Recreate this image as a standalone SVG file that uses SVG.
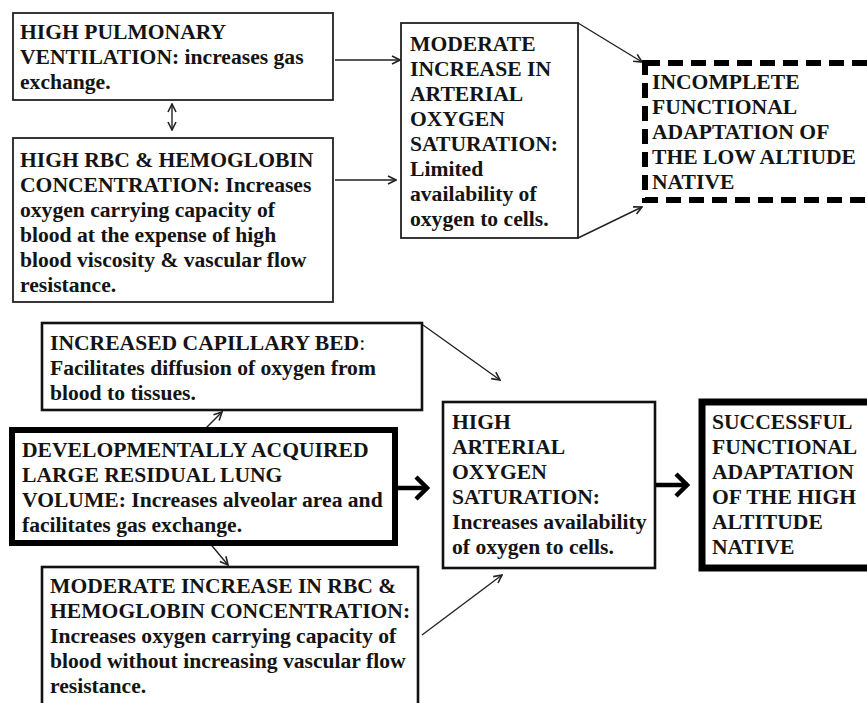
<svg xmlns="http://www.w3.org/2000/svg" width="867" height="703" viewBox="0 0 867 703">
<style>
text{font-family:"Liberation Serif","Times New Roman",serif;font-weight:bold;font-size:21.6px;fill:#141414}
.b{fill:#fff;stroke:#222;stroke-width:1.8}
.m{fill:#fff;stroke:#111;stroke-width:2.6}
.k{fill:#fff;stroke:#000;stroke-width:6}
.d{fill:#fff;stroke:#000;stroke-width:6;stroke-dasharray:15 8}
.c{fill:none;stroke:#222;stroke-width:1.4;marker-end:url(#a)}
.t{fill:none;stroke:#000;stroke-width:4.5;marker-end:url(#h)}
.n{font-weight:normal}
</style>
<defs>
<marker id="a" viewBox="0 0 10 10" refX="9" refY="5" markerWidth="10" markerHeight="10" markerUnits="userSpaceOnUse" orient="auto-start-reverse"><path d="M1,1 L9,5 L1,9" fill="none" stroke="#222" stroke-width="1.6"/></marker>
<marker id="h" viewBox="0 0 16 26" refX="14" refY="13" markerWidth="16" markerHeight="26" markerUnits="userSpaceOnUse" orient="auto"><path d="M2,2 L13,13 L2,24" fill="none" stroke="#000" stroke-width="4.5"/></marker>
</defs>
<rect width="867" height="703" fill="#fff"/>
<g id="connectors">
<line class="c" x1="335" y1="60" x2="400" y2="60"/>
<line class="c" x1="335" y1="180" x2="396" y2="180"/>
<line class="c" x1="578" y1="23" x2="642" y2="62"/>
<line class="c" x1="578" y1="238" x2="642" y2="207"/>
<line class="c" x1="172" y1="104" x2="172" y2="130" style="marker-start:url(#a)"/>
<line class="c" x1="205" y1="429" x2="222" y2="412"/>
<line class="c" x1="208" y1="541" x2="228" y2="565"/>
<line class="t" x1="398" y1="488" x2="428" y2="488"/>
<line class="t" x1="656" y1="485" x2="688" y2="485"/>
<line class="c" x1="423" y1="325" x2="500" y2="380"/>
<line class="c" x1="422" y1="635" x2="502" y2="575"/>
</g>
<g id="pulmonary">
<rect class="b" x="13" y="13" width="320" height="87"/>
<text x="20" y="39">HIGH PULMONARY</text>
<text x="20" y="64">VENTILATION: increases gas</text>
<text x="20" y="89">exchange.</text>
</g>
<g id="rbc-high">
<rect class="b" x="13" y="138" width="320" height="164"/>
<text x="20" y="167">HIGH RBC &amp; HEMOGLOBIN</text>
<text x="20" y="192">CONCENTRATION: Increases</text>
<text x="20" y="217">oxygen carrying capacity of</text>
<text x="20" y="242">blood at the expense of high</text>
<text x="20" y="267">blood viscosity &amp; vascular flow</text>
<text x="20" y="292">resistance.</text>
</g>
<g id="moderate-sat">
<rect class="b" x="401" y="23" width="177" height="215"/>
<text x="410" y="51">MODERATE</text>
<text x="410" y="76">INCREASE IN</text>
<text x="410" y="101">ARTERIAL</text>
<text x="410" y="126">OXYGEN</text>
<text x="410" y="151">SATURATION:</text>
<text x="410" y="176">Limited</text>
<text x="410" y="201">availability of</text>
<text x="410" y="226">oxygen to cells.</text>
</g>
<g id="incomplete">
<rect class="d" x="645" y="63" width="260" height="137"/>
<text x="652" y="89">INCOMPLETE</text>
<text x="652" y="114">FUNCTIONAL</text>
<text x="652" y="139">ADAPTATION OF</text>
<text x="652" y="164">THE LOW ALTIUDE</text>
<text x="652" y="189">NATIVE</text>
</g>
<g id="capillary">
<rect class="m" x="42" y="323" width="380" height="87"/>
<text x="50" y="350">INCREASED CAPILLARY BED<tspan class="n">:</tspan></text>
<text x="50" y="375">Facilitates diffusion of oxygen from</text>
<text x="50" y="400">blood to tissues.</text>
</g>
<g id="lung">
<rect class="k" x="12" y="430" width="383" height="113"/>
<text x="22" y="457">DEVELOPMENTALLY ACQUIRED</text>
<text x="22" y="482">LARGE RESIDUAL LUNG</text>
<text x="22" y="507">VOLUME: Increases alveolar area and</text>
<text x="22" y="532">facilitates gas exchange.</text>
</g>
<g id="rbc-moderate">
<rect class="m" x="42" y="567" width="376" height="160"/>
<text x="50" y="593">MODERATE INCREASE IN RBC &amp;</text>
<text x="50" y="618">HEMOGLOBIN CONCENTRATION:</text>
<text x="50" y="643">Increases oxygen carrying capacity of</text>
<text x="50" y="668">blood without increasing vascular flow</text>
<text x="50" y="693">resistance.</text>
</g>
<g id="high-sat">
<rect class="m" x="443" y="402" width="212" height="166"/>
<text x="452" y="429">HIGH</text>
<text x="452" y="454">ARTERIAL</text>
<text x="452" y="479">OXYGEN</text>
<text x="452" y="504">SATURATION:</text>
<text x="452" y="529">Increases availability</text>
<text x="452" y="554">of oxygen to cells.</text>
</g>
<g id="successful">
<rect class="k" x="702" y="402" width="200" height="166" style="stroke-width:7"/>
<text x="712" y="429">SUCCESSFUL</text>
<text x="712" y="454">FUNCTIONAL</text>
<text x="712" y="479">ADAPTATION</text>
<text x="712" y="504">OF THE HIGH</text>
<text x="712" y="529">ALTITUDE</text>
<text x="712" y="554">NATIVE</text>
</g>
</svg>
